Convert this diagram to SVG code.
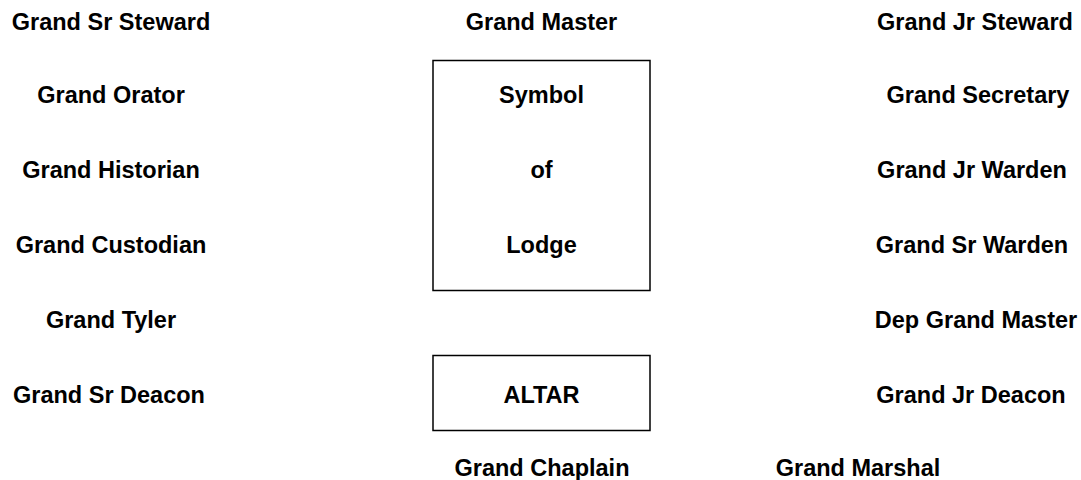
<svg xmlns="http://www.w3.org/2000/svg" width="1081" height="480" viewBox="0 0 1081 480">
<style>
text{font-family:"Liberation Sans",Arial,sans-serif;font-weight:bold;font-size:23.5px;fill:#000;text-anchor:middle}
.box{fill:#fff;stroke:#000;stroke-width:1.5}
</style>
<rect width="1081" height="480" fill="#fff"/>
<g id="grand-sr-steward"><text x="111" y="30">Grand Sr Steward</text></g>
<g id="grand-orator"><text x="111" y="103">Grand Orator</text></g>
<g id="grand-historian"><text x="111" y="178">Grand Historian</text></g>
<g id="grand-custodian"><text x="111" y="253">Grand Custodian</text></g>
<g id="grand-tyler"><text x="111" y="328">Grand Tyler</text></g>
<g id="grand-sr-deacon"><text x="109" y="403">Grand Sr Deacon</text></g>
<g id="grand-master"><text x="541.5" y="30">Grand Master</text></g>
<g id="symbol-of-lodge"><rect class="box" x="433" y="60.5" width="217" height="230"/><text x="541.5" y="103">Symbol</text><text x="541.5" y="178">of</text><text x="541.5" y="253">Lodge</text></g>
<g id="altar"><rect class="box" x="433" y="355.5" width="217" height="75"/><text x="541.5" y="403">ALTAR</text></g>
<g id="grand-chaplain"><text x="542" y="476">Grand Chaplain</text></g>
<g id="grand-marshal"><text x="858" y="476">Grand Marshal</text></g>
<g id="grand-jr-steward"><text x="975" y="30">Grand Jr Steward</text></g>
<g id="grand-secretary"><text x="978" y="103">Grand Secretary</text></g>
<g id="grand-jr-warden"><text x="972" y="178">Grand Jr Warden</text></g>
<g id="grand-sr-warden"><text x="972" y="253">Grand Sr Warden</text></g>
<g id="dep-grand-master"><text x="976" y="328">Dep Grand Master</text></g>
<g id="grand-jr-deacon"><text x="971" y="403">Grand Jr Deacon</text></g>
<g id="connectors"></g>
</svg>
